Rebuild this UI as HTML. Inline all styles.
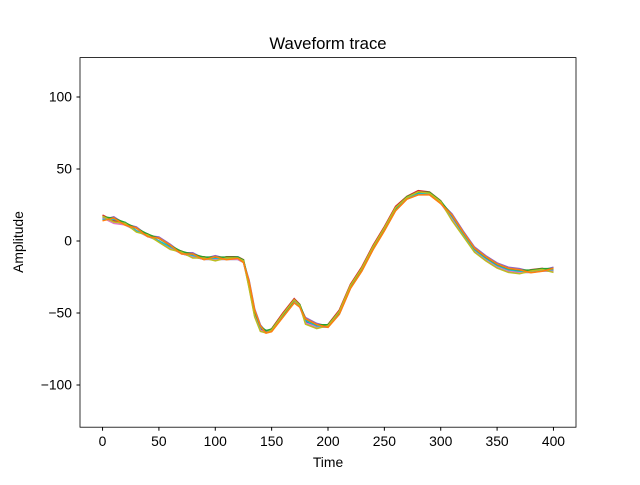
<!DOCTYPE html>
<html><head><meta charset="utf-8"><style>
body{margin:0;background:#fff;}
svg text{font-family:"Liberation Sans","DejaVu Sans",sans-serif;}
</style></head><body>
<svg id="chart" width="640" height="480">
<rect width="640" height="480" fill="#fff"/>
<text x="328" y="49" font-size="16.7" text-anchor="middle">Waveform trace</text>
<g id="plot"></g>
<rect x="80" y="57.6" width="496" height="369.6" fill="none" stroke="#000" stroke-width="0.8"/>
<g id="axes"></g>
<text x="328" y="467" font-size="13.9" text-anchor="middle">Time</text>
<text x="23" y="242" font-size="13.9" text-anchor="middle" transform="rotate(-90 23 242)">Amplitude</text>
</svg>
<script>
const times = [0,10,20,30,40,50,60,70,80,90,100,110,120,125,130,135,140,145,150,160,170,175,180,190,200,210,220,230,240,250,260,270,280,290,300,310,320,330,340,350,360,370,380,390,400];
const trace1 = [16,15,12,8,4,1,-4,-8,-10,-12,-12,-12,-12,-14,-30,-50,-60,-63,-62,-52,-42,-45,-55,-59,-59,-50,-32,-20,-5,8,22,30,33,33,27,17,5,-6,-12,-17,-20,-21,-21,-20,-20];
const trace2 = [18,14,13,7,5,0,-5,-7,-11,-11,-13,-11,-11,-13,-32,-52,-62,-63,-61,-50,-40,-44,-57,-60,-58,-48,-30,-18,-3,10,24,31,35,34,28,15,4,-7,-13,-18,-21,-22,-20,-19,-21];
const trace3 = [14,16,11,9,3,2,-3,-9,-9,-13,-11,-13,-12,-15,-28,-48,-59,-64,-63,-53,-43,-46,-54,-58,-60,-51,-33,-21,-6,7,21,29,32,32,26,18,6,-5,-11,-16,-19,-20,-22,-21,-19];
const trace4 = [17,13,12,8,4,1,-4,-8,-10,-12,-12,-12,-12,-14,-31,-51,-61,-63,-62,-51,-41,-45,-56,-59,-59,-49,-31,-19,-4,9,23,30,34,33,27,16,5,-6,-12,-17,-20,-21,-21,-20,-20];
const trace5 = [15,15,13,7,4,0,-4,-8,-10,-12,-12,-12,-11,-14,-29,-49,-60,-62,-62,-52,-43,-45,-55,-59,-59,-50,-32,-20,-5,8,22,30,33,33,27,17,5,-6,-12,-17,-20,-21,-21,-20,-20];
const traces = [trace1,trace2,trace3,trace4,trace5];
const colors = ["#1f77b4","#d62728","#9467bd","#e377c2","#17becf","#2ca02c","#bcbd22","#ff7f0e"];
const xTicks = [0,50,100,150,200,250,300,350,400];
const yTicks = [-100,-50,0,50,100];
const NS="http://www.w3.org/2000/svg";
function sx(v){return 80+(v+20)/440*496;}
function sy(v){return 241-v*1.44;}
const plot=document.getElementById('plot');
const order=[0,1,2,3,4,5,6,7];
order.forEach((c,i)=>{
  const t=traces[i%traces.length];
  const shift=(i%3-1)*0.8;
  const p=document.createElementNS(NS,'path');
  
  
  p.setAttribute('d',t.map((v,j)=>(j?'L':'M')+sx(times[j]).toFixed(1)+','+sy(v+shift).toFixed(1)).join(''));
  p.setAttribute('fill','none');p.setAttribute('stroke',colors[c]);p.setAttribute('stroke-width','1.5');
  plot.appendChild(p);
});
const ax=document.getElementById('axes');
xTicks.forEach(v=>{
  const l=document.createElementNS(NS,'line');
  
  
  l.setAttribute('x1',sx(v));l.setAttribute('x2',sx(v));l.setAttribute('y1',427.2);l.setAttribute('y2',430.7);l.setAttribute('stroke','#000');
  ax.appendChild(l);
  const t=document.createElementNS(NS,'text');
  
  
  t.setAttribute('x',sx(v));t.setAttribute('y',446);t.setAttribute('font-size','13.9');t.setAttribute('text-anchor','middle');
  t.textContent=v;ax.appendChild(t);
});
yTicks.forEach(v=>{
  const l=document.createElementNS(NS,'line');
  
  
  l.setAttribute('x1',76.5);l.setAttribute('x2',80);l.setAttribute('y1',sy(v));l.setAttribute('y2',sy(v));l.setAttribute('stroke','#000');
  ax.appendChild(l);
  const t=document.createElementNS(NS,'text');
  
  
  t.setAttribute('x',72);t.setAttribute('y',sy(v)+4.5);t.setAttribute('font-size','13.9');t.setAttribute('text-anchor','end');
  t.textContent=v<0?'\u2212'+(-v):v;ax.appendChild(t);
});
</script>
</body></html>
